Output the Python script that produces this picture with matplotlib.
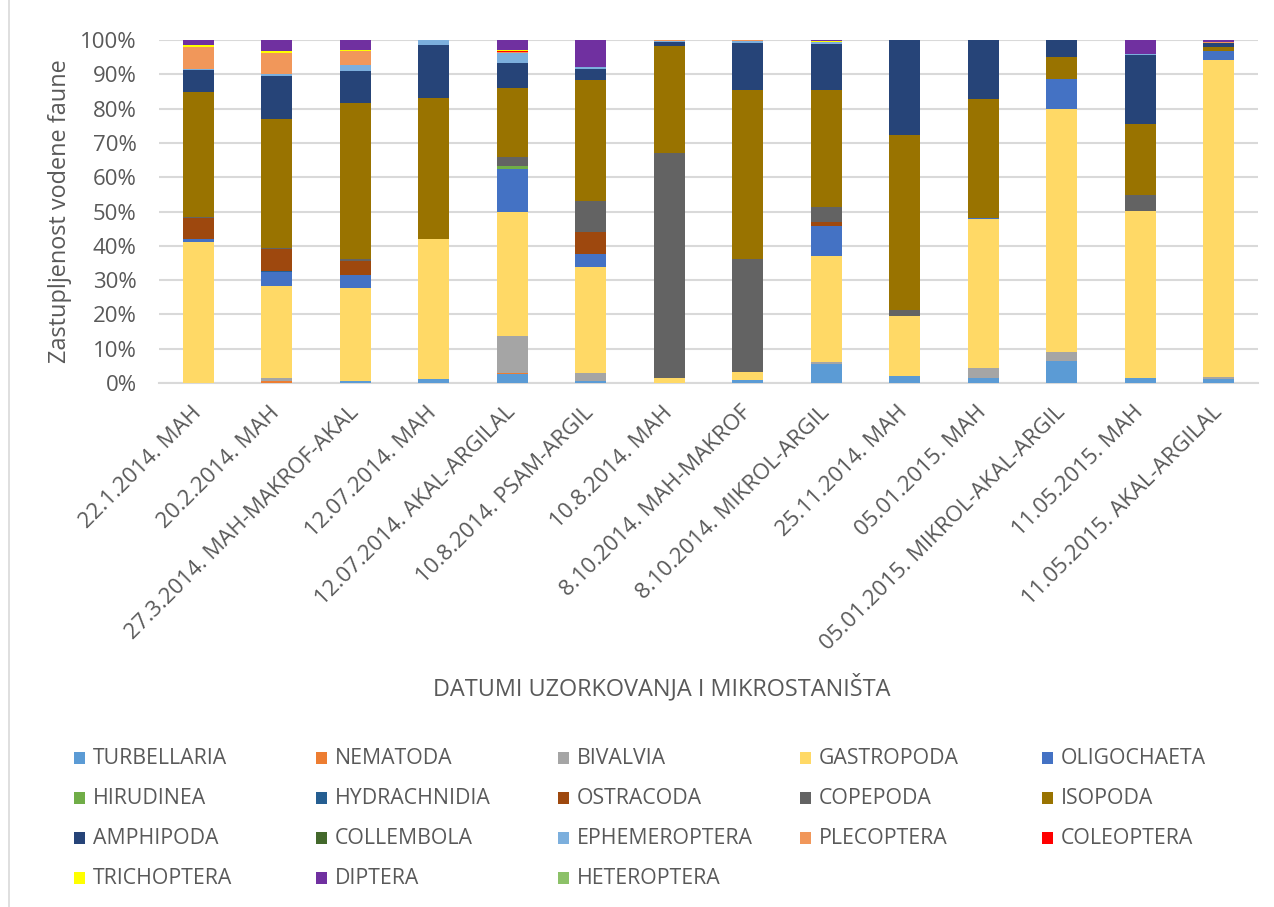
import matplotlib
matplotlib.use("Agg")
import matplotlib.pyplot as plt
from matplotlib.patches import Rectangle
from matplotlib.lines import Line2D
import numpy as np

plt.rcParams['font.family'] = ['Open Sans', 'DejaVu Sans']

categories = ["22.1.2014. MAH", "20.2.2014. MAH", "27.3.2014. MAH-MAKROF-AKAL",
              "12.07.2014. MAH", "12.07.2014. AKAL-ARGILAL", "10.8.2014. PSAM-ARGIL",
              "10.8.2014. MAH", "8.10.2014. MAH-MAKROF", "8.10.2014. MIKROL-ARGIL",
              "25.11.2014. MAH", "05.01.2015. MAH", "05.01.2015. MIKROL-AKAL-ARGIL",
              "11.05.2015. MAH", "11.05.2015. AKAL-ARGILAL"]

species = ["TURBELLARIA", "NEMATODA", "BIVALVIA", "GASTROPODA", "OLIGOCHAETA",
           "HIRUDINEA", "HYDRACHNIDIA", "OSTRACODA", "COPEPODA", "ISOPODA",
           "AMPHIPODA", "COLLEMBOLA", "EPHEMEROPTERA", "PLECOPTERA", "COLEOPTERA",
           "TRICHOPTERA", "DIPTERA", "HETEROPTERA"]

turbellaria   = [0, 0, 0.7, 1.3, 2.7, 0.6, 0, 0.8, 5.6, 2.0, 1.5, 6.4, 1.6, 1.2]
nematoda      = [0, 0.5, 0, 0, 0.3, 0, 0, 0, 0, 0, 0, 0, 0, 0]
bivalvia      = [0, 0.9, 0, 0, 10.6, 2.3, 0, 0, 0.6, 0, 2.9, 2.6, 0, 0.5]
gastropoda    = [41.0, 27.0, 27.0, 40.8, 36.3, 30.9, 1.5, 2.3, 30.8, 17.5, 43.4, 70.8, 48.5, 92.5]
oligochaeta   = [0.9, 3.9, 3.9, 0, 12.4, 3.9, 0, 0, 8.7, 0, 0.3, 8.9, 0, 2.6]
hirudinea     = [0, 0, 0, 0, 0.9, 0, 0, 0, 0, 0, 0, 0, 0, 0]
hydrachnidia  = [0, 0.4, 0, 0, 0, 0, 0, 0, 0, 0, 0, 0, 0, 0]
ostracoda     = [6.3, 6.3, 4.0, 0, 0, 6.4, 0, 0, 1.3, 0, 0, 0, 0, 0]
copepoda      = [0.2, 0.4, 0.6, 0, 2.6, 8.9, 65.7, 33.1, 4.4, 1.8, 0, 0, 4.8, 0]
isopoda       = [36.3, 37.5, 45.4, 40.9, 20.3, 35.2, 31.1, 49.1, 34.0, 51.0, 34.6, 6.2, 20.5, 1.3]
amphipoda     = [6.6, 12.7, 9.4, 15.5, 7.3, 3.3, 1.0, 13.9, 13.3, 27.7, 17.4, 5.2, 20.2, 1.0]
collembola    = [0, 0, 0, 0, 0, 0, 0, 0, 0, 0, 0, 0, 0, 0]
ephemeroptera = [0.2, 0.4, 1.8, 1.6, 2.7, 0.6, 0.5, 0.5, 0.6, 0, 0, 0, 0.4, 0]
plecoptera    = [6.6, 6.3, 4.0, 0, 0.3, 0, 0.3, 0.3, 0, 0, 0, 0, 0, 0.3]
coleoptera    = [0, 0, 0, 0.1, 0.4, 0, 0, 0, 0, 0, 0, 0, 0, 0]
trichoptera   = [0.4, 0.5, 0.4, 0, 0.2, 0, 0, 0, 0.5, 0, 0, 0, 0, 0]
diptera       = [1.5, 3.2, 3.0, 0, 3.3, 7.8, 0, 0, 0.4, 0, 0, 0.1, 4.1, 0.6]
heteroptera   = [0, 0, 0, 0, 0, 0, 0, 0, 0, 0, 0, 0, 0, 0]

series = [turbellaria, nematoda, bivalvia, gastropoda, oligochaeta, hirudinea,
          hydrachnidia, ostracoda, copepoda, isopoda, amphipoda, collembola,
          ephemeroptera, plecoptera, coleoptera, trichoptera, diptera, heteroptera]

colors = ["#5B9BD5", "#ED7D31", "#A5A5A5", "#FFD966", "#4472C4", "#70AD47",
          "#255E91", "#9E480E", "#636363", "#997300", "#264478", "#43682B",
          "#7CAFDD", "#F1975A", "#FF0000", "#FFFF00", "#7030A0", "#8CC168"]

yticks = [0, 10, 20, 30, 40, 50, 60, 70, 80, 90, 100]
ytick_labels = ["0%", "10%", "20%", "30%", "40%", "50%", "60%", "70%", "80%", "90%", "100%"]

TXT = "#595959"
GRID = "#D9D9D9"

W, H = 1274, 907
fig = plt.figure(figsize=(W / 100, H / 100), dpi=100)
ax = fig.add_axes([159 / W, 1 - 383 / H, (1258 - 159) / W, (383 - 40) / H])

x = np.arange(len(categories))
bottom = np.zeros(len(categories))
for vals, col, name in zip(series, colors, species):
    v = np.array(vals, dtype=float)
    ax.bar(x, v, width=0.4, bottom=bottom, color=col, linewidth=0, label=name, zorder=3)
    bottom += v

ax.set_xlim(-0.5, len(categories) - 0.5)
ax.set_ylim(0, 100)
ax.set_yticks(yticks)
ax.set_yticklabels(ytick_labels)
ax.set_xticks(x)
ax.set_xticklabels(categories, rotation=45, ha='right', va='center', rotation_mode='anchor')
ax.tick_params(axis='both', length=0, colors=TXT, labelsize=16)
ax.tick_params(axis='y', pad=16)
ax.tick_params(axis='x', pad=19)
ax.grid(axis='y', color=GRID, linewidth=1.5, zorder=0)
for s in ['top', 'right', 'left']:
    ax.spines[s].set_visible(False)
ax.spines['bottom'].set_color(GRID)
ax.spines['bottom'].set_linewidth(1.5)

fig.text(60 / W, 1 - 211 / H, "Zastupljenost vodene faune", rotation=90,
         ha='center', va='center', color=TXT, fontsize=16.9)
fig.text(662 / W, 1 - 688 / H, "DATUMI UZORKOVANJA I MIKROSTANIŠTA",
         ha='center', va='center', color=TXT, fontsize=16.9)

# legend (row-major, 5 columns)
col_x = [74, 316, 558, 800, 1042]
row_y = [758, 798, 838, 878]
for i, (name, col) in enumerate(zip(species, colors)):
    r, c = divmod(i, 5)
    mx, my = col_x[c], row_y[r]
    fig.patches.append(Rectangle((mx / W, 1 - (my + 6) / H), 11 / W, 12 / H,
                                 transform=fig.transFigure, color=col, lw=0))
    fig.text((mx + 19) / W, 1 - my / H, name, ha='left', va='center',
             color=TXT, fontsize=15.3)

# chart border (left edge)
fig.lines.append(Line2D([8.5 / W, 8.5 / W], [0, 1], transform=fig.transFigure,
                        color=GRID, linewidth=1.2))

fig.savefig("out.png", dpi=100)
